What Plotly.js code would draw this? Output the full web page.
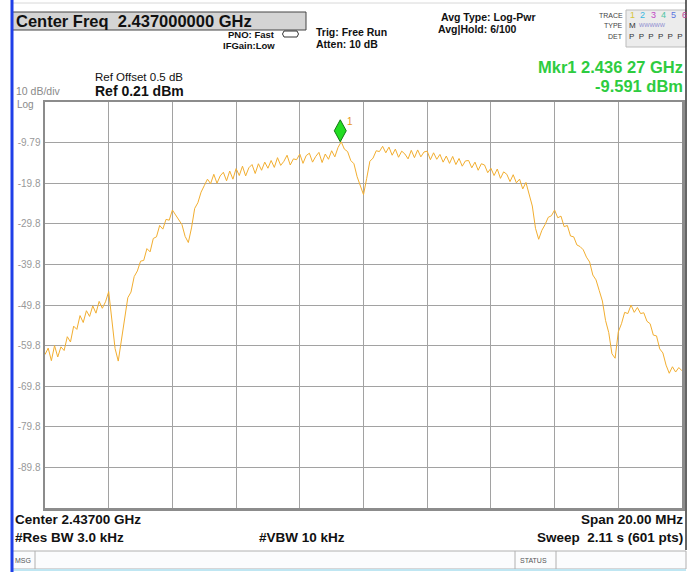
<!DOCTYPE html>
<html>
<head>
<meta charset="utf-8">
<script src="https://cdn.plot.ly/plotly-3.0.1.min.js"></script>
<style>
html,body{margin:0;padding:0;background:#ffffff;}
#chart{width:688px;height:572px;}
</style>
</head>
<body>
<div id="chart"></div>
<script>
// ---- Data ----
const startFreqGHz = 2.427;     // Center 2.437 GHz, span 20 MHz
const stepGHz = 0.0001;         // one trace point every 0.1 MHz
const traceDbm = [
  -62.0,-60.4,-63.5,-59.8,-62.6,-60.1,-61.0,-57.6,-58.9,-55.0,
  -55.8,-52.4,-54.1,-51.2,-52.6,-50.0,-51.8,-48.9,-50.6,-49.0,
  -46.5,-52.8,-60.5,-63.6,-58.2,-53.2,-48.0,-46.6,-42.8,-41.4,
  -39.0,-38.8,-35.9,-36.7,-33.4,-33.0,-30.2,-31.1,-28.7,-28.9,
  -26.4,-27.6,-28.9,-30.0,-32.9,-34.4,-30.8,-26.0,-24.6,-22.0,
  -20.4,-18.8,-19.9,-17.6,-19.8,-18.0,-17.1,-19.2,-16.8,-18.8,
  -16.2,-17.9,-15.6,-18.0,-16.0,-15.2,-17.4,-15.0,-16.6,-14.6,
  -16.1,-14.2,-15.9,-13.5,-15.4,-14.4,-12.9,-15.3,-13.8,-14.0,
  -12.6,-14.9,-13.0,-12.4,-14.6,-13.2,-12.2,-14.7,-12.6,-13.9,
  -11.8,-13.3,-11.0,-9.59,-11.4,-12.0,-14.2,-15.0,-18.2,-20.2,
  -22.6,-18.6,-14.4,-13.6,-11.8,-12.0,-10.7,-12.3,-10.9,-12.9,
  -11.4,-13.4,-11.9,-12.6,-13.8,-11.7,-13.5,-11.6,-13.3,-12.1,
  -11.9,-14.0,-12.3,-13.9,-12.7,-14.6,-13.1,-14.9,-13.2,-15.2,
  -13.7,-15.6,-14.3,-14.2,-16.0,-14.6,-16.6,-15.0,-15.3,-17.2,
  -16.1,-17.9,-16.3,-18.6,-17.0,-17.6,-19.4,-17.7,-19.7,-18.8,
  -21.2,-19.6,-22.4,-25.4,-30.9,-33.6,-31.4,-30.0,-28.2,-27.8,
  -26.4,-28.3,-27.9,-30.5,-30.2,-32.8,-33.0,-35.0,-35.4,-36.2,
  -38.0,-39.2,-42.4,-43.6,-46.2,-48.8,-53.6,-56.6,-61.8,-62.9,
  -56.4,-54.4,-51.6,-51.9,-49.8,-51.6,-50.4,-51.9,-51.7,-53.8,
  -54.4,-57.2,-57.4,-60.6,-61.6,-64.6,-66.6,-65.0,-66.3,-65.2,
  -66.0
];
const refLevel = 0.21;
const dbPerDiv = 10;
const yTickVals = [-9.79,-19.79,-29.79,-39.79,-49.79,-59.79,-69.79,-79.79,-89.79];
const yTickText = ['-9.79','-19.8','-29.8','-39.8','-49.8','-59.8','-69.8','-79.8','-89.8'];
const markerFreqGHz = 2.43627;
const markerLevel = -9.591;
const traceNums = ['1','2','3','4','5','6'];
const traceNumColors = ['#d6c43a','#38b8e0','#c244c4','#4cc4a4','#5a74e0','#b83c98'];

// ---- Layout helpers (pixel -> paper) ----
const L = 45, R = 682, T = 102, B = 508;
const P = x => (x - L) / (R - L);
const Q = y => (B - y) / (B - T);
const FONT = 'Liberation Sans, Arial, sans-serif';
function A(text, x, y, size, opts) {
  opts = opts || {};
  return {
    xref:'paper', yref:'paper', x:P(x), y:Q(y), text:text, showarrow:false,
    xanchor: opts.xa || 'left', yanchor:'middle', borderpad:0,
    font:{family:FONT, size:size, color:opts.color || '#111111', weight: opts.bold ? 700 : 400}
  };
}
function rect(x0,y0,x1,y1,fill,line,lw){
  return {type:'rect', xref:'paper', yref:'paper', x0:P(x0), x1:P(x1), y0:Q(y0), y1:Q(y1),
          fillcolor:fill, line:{color:line, width:lw===undefined?1:lw}, layer:'below'};
}
function seg(x0,y0,x1,y1,color,w){
  return {type:'line', xref:'paper', yref:'paper', x0:P(x0), x1:P(x1), y0:Q(y0), y1:Q(y1),
          line:{color:color, width:w}};
}

const annotations = [
  A('Center Freq  2.437000000 GHz', 15, 21, 16.5, {bold:true}),
  A('PNO: Fast', 227, 34.5, 9.5, {bold:true}),
  A('IFGain:Low', 222, 46, 9.5, {bold:true}),
  A('Trig: Free Run', 315, 32, 10.5, {bold:true}),
  A('Atten: 10 dB', 315, 44, 10.5, {bold:true}),
  A('Avg Type: Log-Pwr', 440, 17, 10.5, {bold:true}),
  A('Avg|Hold: 6/100', 437, 29, 10.5, {bold:true}),
  A('TRACE', 624, 15, 7, {xa:'right', color:'#444'}),
  A('TYPE', 624, 25.5, 7, {xa:'right', color:'#444'}),
  A('DET', 624, 36, 7, {xa:'right', color:'#444'}),
  A('M', 628, 25.5, 8, {color:'#333'}),
  A('WWWWW', 638, 25.5, 5.5, {color:'#8a8ad0'}),
  A('P  P  P  P  P  P', 628, 36, 8, {color:'#333'}),
  A('Mkr1 2.436 27 GHz', 684, 67, 16.5, {bold:true, xa:'right', color:'#2ecc40'}),
  A('-9.591 dBm', 684, 86, 16.5, {bold:true, xa:'right', color:'#2ecc40'}),
  A('Ref Offset 0.5 dB', 94, 77, 11.5, {}),
  A('Ref 0.21 dBm', 94, 91, 14, {bold:true}),
  A('10 dB/div', 15, 91, 10.5, {color:'#8a8a8a'}),
  A('Log', 16, 104.5, 10, {color:'#8a8a8a'}),
  A('Center 2.43700 GHz', 14, 519, 13.5, {bold:true}),
  A('#Res BW 3.0 kHz', 14, 537, 13.5, {bold:true}),
  A('#VBW 10 kHz', 258, 537, 13.5, {bold:true}),
  A('Span 20.00 MHz', 684, 519, 13.5, {bold:true, xa:'right'}),
  A('Sweep  2.11 s (601 pts)', 684, 537, 13.5, {bold:true, xa:'right'}),
  A('MSG', 14, 560, 7, {color:'#555'}),
  A('STATUS', 519, 560, 7, {color:'#555'}),
  {xref:'x', yref:'y', x:markerFreqGHz, y:markerLevel, text:'1', showarrow:false,
   xshift:10, yshift:20, font:{family:FONT, size:10, color:'#e89a20'}}
];
traceNums.forEach((t,i)=>{
  annotations.push(A(t, 629 + i*10.3, 15, 9, {color:traceNumColors[i]}));
});

const shapes = [
  rect(12, 12, 306, 30, '#d4d4d4', '#444', 1),
  rect(626, 10, 686, 47, '#ececec', '#bbbbbb', 1),
  rect(12, 551, 686, 569, '#fbfcfd', '#b0b0b0', 1),
  seg(35, 551, 35, 569, '#b0b0b0', 1),
  seg(515, 551, 515, 569, '#b0b0b0', 1),
  seg(556, 551, 556, 569, '#b0b0b0', 1),
  seg(12, 570, 686, 570, '#bfe6f2', 2),
  seg(12, 3, 686, 3, '#d8d8d8', 1),
  seg(686, 0, 686, 550, '#333333', 1.5),
  seg(12, 0, 12, 572, '#1f3fe8', 3),
  // PNO loop icon
  {type:'path', xref:'paper', yref:'paper',
   path:`M ${P(284)},${Q(31)} L ${P(297)},${Q(31)} Q ${P(300)},${Q(34)} ${P(297)},${Q(37)} L ${P(284)},${Q(37)} Q ${P(281)},${Q(34)} ${P(284)},${Q(31)}`,
   line:{color:'#333', width:1}},
  // marker diamond
  {type:'path', xref:'x', yref:'y', xsizemode:'pixel', ysizemode:'pixel',
   xanchor:markerFreqGHz, yanchor:markerLevel,
   path:'M 0,0 L 6,11 L 0,22 L -6,11 Z',
   fillcolor:'#22dd22', line:{color:'#127a12', width:1}}
];

const data = [{
  type:'scatter', mode:'lines',
  x0:startFreqGHz, dx:stepGHz, y:traceDbm,
  line:{color:'#f2ae30', width:1},
  hoverinfo:'skip'
}];

const layout = {
  width:688, height:572,
  margin:{l:L, r:688-R, t:T, b:572-B, pad:0},
  paper_bgcolor:'#ffffff', plot_bgcolor:'#ffffff',
  showlegend:false,
  xaxis:{
    range:[startFreqGHz, startFreqGHz + 0.02], tick0:startFreqGHz, dtick:0.002,
    showticklabels:false, ticks:'', showgrid:true, gridcolor:'#a2a2a2', gridwidth:1,
    zeroline:false, showline:true, mirror:true, linecolor:'#8c8c8c', linewidth:2.5
  },
  yaxis:{
    range:[refLevel - 10*dbPerDiv, refLevel], tickmode:'array',
    tickvals:yTickVals, ticktext:yTickText,
    ticks:'', showgrid:true, gridcolor:'#a2a2a2', gridwidth:1,
    zeroline:false, showline:true, mirror:true, linecolor:'#8c8c8c', linewidth:2.5,
    tickfont:{family:FONT, size:10, color:'#999999'}
  },
  annotations:annotations,
  shapes:shapes
};

Plotly.newPlot('chart', data, layout, {staticPlot:true, displayModeBar:false});
</script>
</body>
</html>
